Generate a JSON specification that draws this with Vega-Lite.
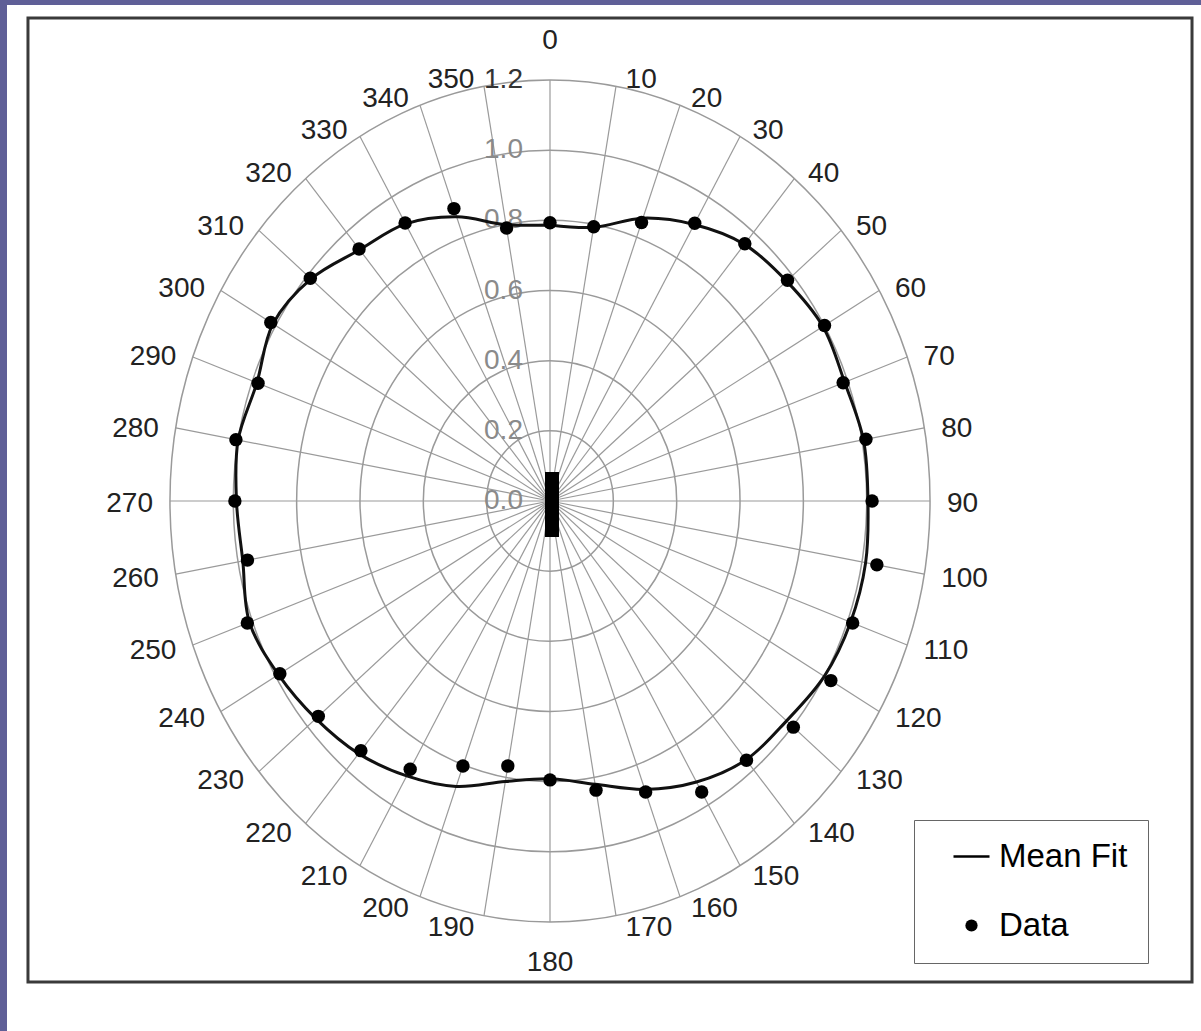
{
  "$schema": "https://vega.github.io/schema/vega-lite/v6.json",
  "width": 1194,
  "height": 1026,
  "autosize": {"type": "none"},
  "padding": {"left": 7, "top": 5, "right": 0, "bottom": 0},
  "background": "#5f5f97",
  "config": {"view": {"fill": "white", "stroke": null}, "font": "Liberation Sans"},
  "datasets": {
    "rings": [{"r": 0.2}, {"r": 0.4}, {"r": 0.6}, {"r": 0.8}, {"r": 1.0}, {"r": 1.2}],
    "angles": [{"a": 0}, {"a": 10}, {"a": 20}, {"a": 30}, {"a": 40}, {"a": 50}, {"a": 60}, {"a": 70}, {"a": 80}, {"a": 90}, {"a": 100}, {"a": 110}, {"a": 120}, {"a": 130}, {"a": 140}, {"a": 150}, {"a": 160}, {"a": 170}, {"a": 180}, {"a": 190}, {"a": 200}, {"a": 210}, {"a": 220}, {"a": 230}, {"a": 240}, {"a": 250}, {"a": 260}, {"a": 270}, {"a": 280}, {"a": 290}, {"a": 300}, {"a": 310}, {"a": 320}, {"a": 330}, {"a": 340}, {"a": 350}],
    "rlabels": [{"v": 0.0, "label": "0.0"}, {"v": 0.2, "label": "0.2"}, {"v": 0.4, "label": "0.4"}, {"v": 0.6, "label": "0.6"}, {"v": 0.8, "label": "0.8"}, {"v": 1.0, "label": "1.0"}, {"v": 1.2, "label": "1.2"}],
    "pts": [{"a": 0, "r": 0.793, "series": "Data"}, {"a": 10, "r": 0.794, "series": "Data"}, {"a": 20, "r": 0.845, "series": "Data"}, {"a": 30, "r": 0.914, "series": "Data"}, {"a": 40, "r": 0.957, "series": "Data"}, {"a": 50, "r": 0.979, "series": "Data"}, {"a": 60, "r": 1.001, "series": "Data"}, {"a": 70, "r": 0.985, "series": "Data"}, {"a": 80, "r": 1.013, "series": "Data"}, {"a": 90, "r": 1.017, "series": "Data"}, {"a": 100, "r": 1.048, "series": "Data"}, {"a": 110, "r": 1.017, "series": "Data"}, {"a": 120, "r": 1.024, "series": "Data"}, {"a": 130, "r": 1.003, "series": "Data"}, {"a": 140, "r": 0.965, "series": "Data"}, {"a": 150, "r": 0.958, "series": "Data"}, {"a": 160, "r": 0.883, "series": "Data"}, {"a": 170, "r": 0.837, "series": "Data"}, {"a": 180, "r": 0.795, "series": "Data"}, {"a": 190, "r": 0.767, "series": "Data"}, {"a": 200, "r": 0.804, "series": "Data"}, {"a": 210, "r": 0.883, "series": "Data"}, {"a": 220, "r": 0.929, "series": "Data"}, {"a": 230, "r": 0.955, "series": "Data"}, {"a": 240, "r": 0.985, "series": "Data"}, {"a": 250, "r": 1.017, "series": "Data"}, {"a": 260, "r": 0.970, "series": "Data"}, {"a": 270, "r": 0.995, "series": "Data"}, {"a": 280, "r": 1.007, "series": "Data"}, {"a": 290, "r": 0.981, "series": "Data"}, {"a": 300, "r": 1.018, "series": "Data"}, {"a": 310, "r": 0.988, "series": "Data"}, {"a": 320, "r": 0.938, "series": "Data"}, {"a": 330, "r": 0.915, "series": "Data"}, {"a": 340, "r": 0.887, "series": "Data"}, {"a": 350, "r": 0.790, "series": "Data"}],
    "fit": [{"a": 0, "r": 0.787}, {"a": 10, "r": 0.792}, {"a": 20, "r": 0.858}, {"a": 30, "r": 0.91}, {"a": 40, "r": 0.955}, {"a": 50, "r": 0.975}, {"a": 60, "r": 0.995}, {"a": 70, "r": 0.99}, {"a": 80, "r": 1.005}, {"a": 90, "r": 1.004}, {"a": 100, "r": 1.012}, {"a": 110, "r": 1.01}, {"a": 120, "r": 1.0}, {"a": 130, "r": 0.975}, {"a": 140, "r": 0.963}, {"a": 150, "r": 0.925}, {"a": 160, "r": 0.875}, {"a": 170, "r": 0.82}, {"a": 180, "r": 0.792}, {"a": 190, "r": 0.812}, {"a": 200, "r": 0.866}, {"a": 210, "r": 0.905}, {"a": 220, "r": 0.94}, {"a": 230, "r": 0.965}, {"a": 240, "r": 0.99}, {"a": 250, "r": 1.01}, {"a": 260, "r": 0.985}, {"a": 270, "r": 0.99}, {"a": 280, "r": 1.0}, {"a": 290, "r": 0.985}, {"a": 300, "r": 1.01}, {"a": 310, "r": 0.985}, {"a": 320, "r": 0.935}, {"a": 330, "r": 0.912}, {"a": 340, "r": 0.862}, {"a": 350, "r": 0.8}, {"a": 360, "r": 0.787}]
  },
  "layer": [
    {
      "data": {"name": "rings"},
      "transform": [{"calculate": "0", "as": "cx"}, {"calculate": "0", "as": "cy"}],
      "mark": {"type": "point", "shape": "M 0 -1 C 0.4986 -1 0.9028 -0.5523 0.9028 0 C 0.9028 0.5523 0.4986 1 0 1 C -0.4986 1 -0.9028 0.5523 -0.9028 0 C -0.9028 -0.5523 -0.4986 -1 0 -1 Z", "filled": false, "stroke": "#9a9a9a", "strokeWidth": 1.5, "opacity": 1},
      "encoding": {
        "x": {"field": "cx", "type": "quantitative", "scale": {"domain": [-1.71455, 2.05557], "nice": false, "zero": false}, "axis": null},
        "y": {"field": "cy", "type": "quantitative", "scale": {"domain": [-1.51083, 1.41391], "nice": false, "zero": false}, "axis": null},
        "size": {"field": "r", "type": "quantitative", "scale": {"type": "pow", "exponent": 2, "domain": [0, 1.2], "range": [0, 708829]}, "legend": null}
      }
    },
    {
      "data": {"name": "angles"},
      "transform": [
        {"calculate": "0", "as": "cx"},
        {"calculate": "0", "as": "cy"},
        {"calculate": "1.2*sin(datum.a*PI/180)", "as": "ex"},
        {"calculate": "1.2*cos(datum.a*PI/180)", "as": "ey"}
      ],
      "mark": {"type": "rule", "stroke": "#9a9a9a", "strokeWidth": 1.2},
      "encoding": {
        "x": {"field": "cx", "type": "quantitative", "scale": {"domain": [-1.71455, 2.05557], "nice": false, "zero": false}, "axis": null},
        "y": {"field": "cy", "type": "quantitative", "scale": {"domain": [-1.51083, 1.41391], "nice": false, "zero": false}, "axis": null},
        "x2": {"field": "ex"},
        "y2": {"field": "ey"}
      }
    },
    {
      "data": {"name": "rlabels"},
      "transform": [{"filter": "datum.v == 0"}, {"calculate": "-0.0158", "as": "x1"}, {"calculate": "0.0284", "as": "x2"}, {"calculate": "0.0827", "as": "y1"}, {"calculate": "-0.1026", "as": "y2"}],
      "mark": {"type": "rect", "fill": "black"},
      "encoding": {
        "x": {"field": "x1", "type": "quantitative", "scale": {"domain": [-1.71455, 2.05557], "nice": false, "zero": false}, "axis": null},
        "x2": {"field": "x2"},
        "y": {"field": "y1", "type": "quantitative", "scale": {"domain": [-1.51083, 1.41391], "nice": false, "zero": false}, "axis": null},
        "y2": {"field": "y2"}
      }
    },
    {
      "data": {"name": "rlabels"},
      "transform": [{"calculate": "-0.0853", "as": "lx"}, {"calculate": "datum.v > 1.1 ? '#333333' : '#8a8a8a'", "as": "col"}],
      "mark": {"type": "text", "align": "right", "baseline": "middle", "fontSize": 28, "font": "Liberation Sans"},
      "encoding": {
        "x": {"field": "lx", "type": "quantitative", "scale": {"domain": [-1.71455, 2.05557], "nice": false, "zero": false}, "axis": null},
        "y": {"field": "v", "type": "quantitative", "scale": {"domain": [-1.51083, 1.41391], "nice": false, "zero": false}, "axis": null},
        "text": {"field": "label", "type": "nominal"},
        "color": {"field": "col", "type": "nominal", "scale": null}
      }
    },
    {
      "data": {"name": "fit"},
      "transform": [
        {"calculate": "datum.r*sin(datum.a*PI/180)", "as": "px"},
        {"calculate": "datum.r*cos(datum.a*PI/180)", "as": "py"}
      ],
      "mark": {"type": "line", "stroke": "#111111", "strokeWidth": 3, "interpolate": "catmull-rom"},
      "encoding": {
        "x": {"field": "px", "type": "quantitative", "scale": {"domain": [-1.71455, 2.05557], "nice": false, "zero": false}, "axis": null},
        "y": {"field": "py", "type": "quantitative", "scale": {"domain": [-1.51083, 1.41391], "nice": false, "zero": false}, "axis": null},
        "order": {"field": "a", "type": "quantitative"}
      }
    },
    {
      "data": {"name": "pts"},
      "transform": [
        {"calculate": "datum.r*sin(datum.a*PI/180)", "as": "px"},
        {"calculate": "datum.r*cos(datum.a*PI/180)", "as": "py"}
      ],
      "mark": {"type": "point", "filled": true, "fill": "black", "size": 180, "opacity": 1},
      "encoding": {
        "x": {"field": "px", "type": "quantitative", "scale": {"domain": [-1.71455, 2.05557], "nice": false, "zero": false}, "axis": null},
        "y": {"field": "py", "type": "quantitative", "scale": {"domain": [-1.51083, 1.41391], "nice": false, "zero": false}, "axis": null},
        "shape": {
          "field": "series",
          "type": "nominal",
          "scale": {"domain": ["Mean Fit", "Data"], "range": ["M -2.94 -0.22 L 2.94 -0.22 L 2.94 0.22 L -2.94 0.22 Z", "circle"]},
          "legend": {
            "title": null,
            "orient": "none",
            "legendX": 907,
            "legendY": 815,
            "padding": 20,
            "fillColor": "white",
            "strokeColor": "#666666",
            "symbolSize": 150,
            "symbolFillColor": "black",
            "symbolOpacity": 1,
            "symbolOffset": 21,
            "labelOffset": 11,
            "labelFont": "Liberation Sans",
            "labelFontSize": 33,
            "labelColor": "black",
            "labelLimit": 400,
            "rowPadding": 35,
            "labelExpr": "datum.label + '\u00a0\u00a0'"
          }
        }
      }
    },
    {
      "data": {"name": "angles"},
      "transform": [
        {"filter": "datum.a > 0 && datum.a < 180"},
        {"calculate": "1.2*sin(datum.a*PI/180) + (8 + 9*abs(sin(datum.a*PI/180)))/316.7", "as": "lx"},
        {"calculate": "1.2*cos(datum.a*PI/180) + (10*cos(datum.a*PI/180) - 3)/350.8", "as": "ly"}
      ],
      "mark": {"type": "text", "align": "left", "baseline": "middle", "fontSize": 28, "font": "Liberation Sans", "color": "#222222"},
      "encoding": {
        "x": {"field": "lx", "type": "quantitative", "scale": {"domain": [-1.71455, 2.05557], "nice": false, "zero": false}, "axis": null},
        "y": {"field": "ly", "type": "quantitative", "scale": {"domain": [-1.51083, 1.41391], "nice": false, "zero": false}, "axis": null},
        "text": {"field": "a", "type": "nominal"}
      }
    },
    {
      "data": {"name": "angles"},
      "transform": [
        {"filter": "datum.a > 180"},
        {"calculate": "1.2*sin(datum.a*PI/180) - (8 + 9*abs(sin(datum.a*PI/180)))/316.7", "as": "lx"},
        {"calculate": "1.2*cos(datum.a*PI/180) + (10*cos(datum.a*PI/180) - 3)/350.8", "as": "ly"}
      ],
      "mark": {"type": "text", "align": "right", "baseline": "middle", "fontSize": 28, "font": "Liberation Sans", "color": "#222222"},
      "encoding": {
        "x": {"field": "lx", "type": "quantitative", "scale": {"domain": [-1.71455, 2.05557], "nice": false, "zero": false}, "axis": null},
        "y": {"field": "ly", "type": "quantitative", "scale": {"domain": [-1.51083, 1.41391], "nice": false, "zero": false}, "axis": null},
        "text": {"field": "a", "type": "nominal"}
      }
    },
    {
      "data": {"name": "angles"},
      "transform": [
        {"filter": "datum.a == 0 || datum.a == 180"},
        {"calculate": "0", "as": "lx"},
        {"calculate": "datum.a == 0 ? 1.2 + 39/350.8 : -1.2 - 41/350.8", "as": "ly"}
      ],
      "mark": {"type": "text", "align": "center", "baseline": "middle", "fontSize": 28, "font": "Liberation Sans", "color": "#222222"},
      "encoding": {
        "x": {"field": "lx", "type": "quantitative", "scale": {"domain": [-1.71455, 2.05557], "nice": false, "zero": false}, "axis": null},
        "y": {"field": "ly", "type": "quantitative", "scale": {"domain": [-1.51083, 1.41391], "nice": false, "zero": false}, "axis": null},
        "text": {"field": "a", "type": "nominal"}
      }
    },
    {
      "data": {"name": "rlabels"},
      "transform": [{"filter": "datum.v == 0"}, {"calculate": "-1.6483", "as": "x1"}, {"calculate": "2.0272", "as": "x2"}, {"calculate": "1.3769", "as": "y1"}, {"calculate": "-1.3712", "as": "y2"}],
      "mark": {"type": "rect", "filled": false, "fillOpacity": 0, "stroke": "#3a3a3a", "strokeWidth": 3},
      "encoding": {
        "x": {"field": "x1", "type": "quantitative", "scale": {"domain": [-1.71455, 2.05557], "nice": false, "zero": false}, "axis": null},
        "x2": {"field": "x2"},
        "y": {"field": "y1", "type": "quantitative", "scale": {"domain": [-1.51083, 1.41391], "nice": false, "zero": false}, "axis": null},
        "y2": {"field": "y2"}
      }
    }
  ]
}
